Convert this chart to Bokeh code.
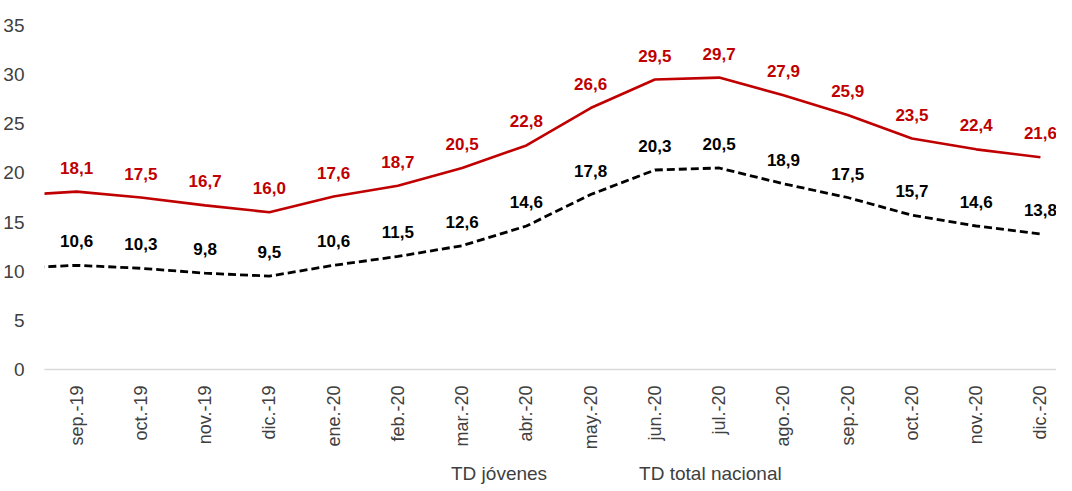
import math
from bokeh.plotting import figure
from bokeh.layouts import column
from bokeh.models import Range1d, FixedTicker, Legend, LegendItem, ColumnDataSource
from bokeh.embed import file_html
from bokeh.resources import INLINE
from bokeh.core.properties import value

# ---- data ----
months = ["sep.-19", "oct.-19", "nov.-19", "dic.-19", "ene.-20", "feb.-20", "mar.-20", "abr.-20",
          "may.-20", "jun.-20", "jul.-20", "ago.-20", "sep.-20", "oct.-20", "nov.-20", "dic.-20"]
td_jovenes = [18.1, 17.5, 16.7, 16.0, 17.6, 18.7, 20.5, 22.8, 26.6, 29.5, 29.7, 27.9, 25.9, 23.5, 22.4, 21.6]
td_total = [10.6, 10.3, 9.8, 9.5, 10.6, 11.5, 12.6, 14.6, 17.8, 20.3, 20.5, 18.9, 17.5, 15.7, 14.6, 13.8]
# previous month (partly visible at the left edge of the plot)
prev_month = "ago.-19"
prev_jovenes = 17.7
prev_total = 10.3
y_ticks = [0, 5, 10, 15, 20, 25, 30, 35]
series_names = ["TD jóvenes", "TD total nacional"]

FONT = "Liberation Sans"
RED = "#c00000"
GREY = "#404040"

xs = list(range(len(months)))
line_x = [-1] + xs
src_j = ColumnDataSource(dict(x=line_x, y=[prev_jovenes] + td_jovenes))
src_t = ColumnDataSource(dict(x=line_x, y=[prev_total] + td_total))
lab_j = ColumnDataSource(dict(x=xs, y=td_jovenes, t=[f"{v:.1f}".replace(".", ",") for v in td_jovenes]))
lab_t = ColumnDataSource(dict(x=xs, y=td_total, t=[f"{v:.1f}".replace(".", ",") for v in td_total]))

p = figure(width=1056, height=452, output_backend="svg", toolbar_location=None,
           x_range=Range1d(-0.5, 15.25), y_range=Range1d(0, 35),
           min_border_left=40, min_border_top=25, min_border_right=0, min_border_bottom=82)
p.outline_line_color = None
p.xgrid.visible = False
p.ygrid.visible = False

p.line("x", "y", source=src_j, line_color=RED, line_width=2.6)
p.line("x", "y", source=src_t, line_color="black", line_width=2.8, line_dash="8 4")

p.text("x", "y", text="t", source=lab_j, text_color=RED, text_font=value(FONT),
       text_font_size="17px", text_font_style="bold", text_align="center",
       text_baseline="middle", y_offset=-24)
p.text("x", "y", text="t", source=lab_t, text_color="black", text_font=value(FONT),
       text_font_size="17px", text_font_style="bold", text_align="center",
       text_baseline="middle", y_offset=-24)

xa = p.xaxis[0]
xa.ticker = FixedTicker(ticks=xs)
xa.major_label_overrides = {i: m for i, m in enumerate(months)}
xa.major_label_orientation = math.pi / 2
xa.major_label_text_font = FONT
xa.major_label_text_font_size = "18px"
xa.major_label_text_color = GREY
xa.major_label_standoff = 10
xa.major_tick_line_color = None
xa.minor_tick_line_color = None
xa.axis_line_color = "#d9d9d9"
xa.axis_line_width = 1.5

ya = p.yaxis[0]
ya.ticker = FixedTicker(ticks=y_ticks)
ya.major_label_text_font = FONT
ya.major_label_text_font_size = "19px"
ya.major_label_text_color = GREY
ya.major_label_standoff = 14
ya.major_tick_line_color = None
ya.minor_tick_line_color = None
ya.axis_line_color = None

# ---- legend strip (sample lines carry no data) ----
lg = figure(width=1056, height=36, output_backend="svg", toolbar_location=None,
            x_range=Range1d(0, 1), y_range=Range1d(0, 1), x_axis_type=None, y_axis_type=None,
            min_border_left=0, min_border_right=0, min_border_top=0, min_border_bottom=0)
lg.outline_line_color = None
lg.xgrid.visible = False
lg.ygrid.visible = False
s_j = lg.line(x=[], y=[], line_color=RED, line_width=2.6)
s_t = lg.line(x=[], y=[], line_color="black", line_width=2.8, line_dash="8 4")

legend = Legend(items=[LegendItem(label=series_names[0], renderers=[s_j]),
                       LegendItem(label=series_names[1], renderers=[s_t])],
                orientation="horizontal", location=(347, 3))
legend.label_text_font = FONT
legend.label_text_font_size = "19px"
legend.label_text_color = GREY
legend.glyph_width = 55
legend.glyph_height = 16
legend.label_height = 16
legend.label_standoff = 5
legend.spacing = 32
legend.padding = 2
legend.margin = 0
legend.border_line_color = None
legend.background_fill_alpha = 0
lg.add_layout(legend, "center")

layout = column(p, lg, spacing=0)
open("out.html", "w").write(file_html(layout, INLINE))
